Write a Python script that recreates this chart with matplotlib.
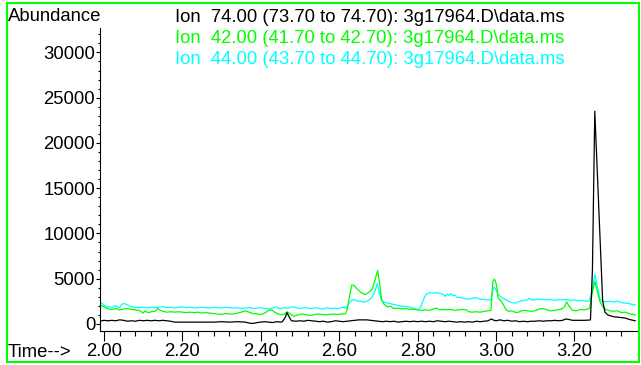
import matplotlib
matplotlib.use("Agg")
import matplotlib.pyplot as plt
from matplotlib.patches import Rectangle
from matplotlib.ticker import MultipleLocator

# ion 44 (cyan)
t_44 = [1.990, 1.995, 2.000, 2.005, 2.010, 2.015, 2.020, 2.025, 2.030, 2.035, 2.040, 2.045,
        2.050, 2.055, 2.060, 2.065, 2.070, 2.080, 2.090, 2.100, 2.110, 2.120, 2.130, 2.140,
        2.150, 2.160, 2.170, 2.180, 2.190, 2.200, 2.210, 2.220, 2.230, 2.240, 2.250, 2.260,
        2.270, 2.280, 2.290, 2.300, 2.310, 2.320, 2.330, 2.340, 2.350, 2.360, 2.370, 2.380,
        2.390, 2.400, 2.410, 2.420, 2.430, 2.440, 2.445, 2.450, 2.460, 2.470, 2.480, 2.490,
        2.500, 2.510, 2.520, 2.530, 2.540, 2.550, 2.560, 2.570, 2.580, 2.590, 2.600, 2.610,
        2.618, 2.625, 2.632, 2.638, 2.645, 2.655, 2.665, 2.675, 2.685, 2.692, 2.697, 2.702,
        2.708, 2.715, 2.725, 2.735, 2.745, 2.755, 2.765, 2.775, 2.785, 2.795, 2.802, 2.808,
        2.815, 2.822, 2.830, 2.840, 2.850, 2.858, 2.865, 2.870, 2.875, 2.880, 2.885, 2.890,
        2.895, 2.900, 2.910, 2.920, 2.930, 2.940, 2.950, 2.960, 2.970, 2.980, 2.988, 2.993,
        2.998, 3.005, 3.012, 3.020, 3.030, 3.040, 3.050, 3.060, 3.070, 3.080, 3.085, 3.090,
        3.100, 3.110, 3.120, 3.130, 3.140, 3.150, 3.160, 3.170, 3.180, 3.190, 3.200, 3.210,
        3.220, 3.230, 3.238, 3.245, 3.252, 3.258, 3.265, 3.272, 3.280, 3.290, 3.300, 3.310,
        3.320, 3.330, 3.340, 3.350, 3.355]
ion_44 = [2350, 2300, 2050, 1950, 1850, 1900, 1800, 1950, 2000, 1850, 1800, 2150,
          2250, 2200, 2100, 2000, 1900, 1850, 1800, 1850, 1750, 1850, 1800, 1850,
          1900, 1800, 1850, 1750, 1850, 1900, 1800, 1850, 1750, 1800, 1850, 1800,
          1750, 1850, 1800, 1750, 1850, 1800, 1750, 1800, 1700, 1750, 1800, 1700,
          1750, 1800, 1700, 1650, 1750, 1900, 1750, 1700, 1800, 1750, 1900, 1800,
          1700, 1800, 1750, 1700, 1800, 1700, 1650, 1800, 1700, 1750, 1700, 1850,
          1750, 2300, 2650, 2700, 2550, 2500, 2400, 2600, 3000, 3700, 4450, 3500,
          2600, 2400, 2300, 2200, 2100, 2000, 1950, 1900, 1800, 1650, 1600, 1900,
          2700, 3300, 3450, 3400, 3450, 3350, 3300, 3050, 3300, 3150, 3350, 3100,
          3200, 2950, 2900, 2800, 2750, 2850, 2900, 2750, 2700, 2650, 2700, 4050,
          3900, 3300, 3000, 2800, 2550, 2350, 2300, 2500, 2600, 2650, 2850, 2650,
          2700, 2750, 2700, 2650, 2700, 2600, 2700, 2650, 2700, 2600, 2650, 2550,
          2600, 2500, 2550, 3500, 5500, 4300, 2800, 2500, 2450, 2500, 2400, 2550,
          2350, 2300, 2250, 2100, 2150]

# ion 42 (green)
t_42 = [1.990, 1.995, 2.000, 2.010, 2.020, 2.030, 2.040, 2.050, 2.060, 2.070, 2.080, 2.090,
        2.095, 2.100, 2.105, 2.110, 2.115, 2.120, 2.130, 2.137, 2.142, 2.150, 2.160, 2.170,
        2.180, 2.190, 2.200, 2.210, 2.220, 2.230, 2.240, 2.250, 2.260, 2.270, 2.280, 2.290,
        2.300, 2.310, 2.320, 2.330, 2.340, 2.350, 2.360, 2.370, 2.380, 2.390, 2.400, 2.410,
        2.420, 2.428, 2.435, 2.445, 2.455, 2.462, 2.468, 2.475, 2.485, 2.495, 2.505, 2.515,
        2.525, 2.535, 2.545, 2.555, 2.565, 2.575, 2.585, 2.595, 2.605, 2.615, 2.620, 2.626,
        2.632, 2.638, 2.645, 2.655, 2.665, 2.675, 2.685, 2.692, 2.698, 2.703, 2.708, 2.714,
        2.722, 2.730, 2.740, 2.750, 2.760, 2.770, 2.780, 2.790, 2.800, 2.810, 2.820, 2.830,
        2.840, 2.848, 2.855, 2.865, 2.875, 2.885, 2.895, 2.905, 2.915, 2.925, 2.930, 2.940,
        2.950, 2.960, 2.970, 2.980, 2.987, 2.992, 2.996, 3.001, 3.006, 3.012, 3.018, 3.025,
        3.032, 3.040, 3.048, 3.055, 3.062, 3.070, 3.080, 3.090, 3.100, 3.110, 3.120, 3.128,
        3.138, 3.148, 3.158, 3.168, 3.175, 3.180, 3.186, 3.195, 3.205, 3.215, 3.225, 3.233,
        3.239, 3.245, 3.252, 3.258, 3.265, 3.272, 3.280, 3.290, 3.300, 3.310, 3.320, 3.330,
        3.340, 3.350, 3.355]
ion_42 = [2100, 2000, 1900, 1650, 1600, 1700, 1550, 1650, 1700, 1600, 1550, 1500,
          1350, 1200, 1450, 1300, 1250, 1350, 1400, 1700, 1550, 1400, 1300, 1350,
          1300, 1350, 1300, 1250, 1300, 1250, 1300, 1200, 1250, 1200, 1150, 1100,
          1050, 1150, 1100, 1100, 1200, 1300, 1450, 1300, 1150, 1100, 1050, 1200,
          1500, 1550, 1300, 1100, 1000, 1150, 1350, 1100, 850, 1000, 1100, 1000,
          950, 1000, 1100, 1050, 1000, 1050, 1100, 1050, 1100, 1100, 1500, 3000,
          4300, 4250, 3900, 3500, 3250, 3450, 3900, 5000, 5900, 4500, 2700, 2200,
          1900, 1950, 1700, 1750, 1650, 1700, 1600, 1650, 1550, 1500, 1550, 1500,
          1650, 1750, 1550, 1600, 1550, 1600, 1500, 1550, 1600, 1550, 1350, 1300,
          1350, 1300, 1400, 1450, 1500, 4700, 4950, 4400, 2800, 2600, 2200, 1600,
          1400, 1450, 1300, 1250, 1400, 1500, 1450, 1400, 1450, 1650, 1700, 1600,
          1450, 1500, 1550, 1650, 1900, 2450, 2000, 1500, 1450, 1600, 1550, 1650,
          1750, 3300, 4700, 3700, 2500, 1900, 1600, 1450, 1400, 1450, 1250, 1300,
          1150, 1050, 1000]

# ion 74 (black)
t_74 = [1.990, 2.000, 2.010, 2.020, 2.030, 2.040, 2.050, 2.060, 2.070, 2.080, 2.090, 2.100,
        2.110, 2.120, 2.130, 2.140, 2.150, 2.160, 2.170, 2.180, 2.200, 2.220, 2.240, 2.260,
        2.280, 2.300, 2.320, 2.340, 2.360, 2.370, 2.380, 2.390, 2.400, 2.410, 2.420, 2.430,
        2.440, 2.450, 2.455, 2.462, 2.467, 2.472, 2.478, 2.490, 2.500, 2.510, 2.520, 2.530,
        2.540, 2.550, 2.560, 2.570, 2.580, 2.590, 2.600, 2.610, 2.620, 2.630, 2.640, 2.650,
        2.660, 2.670, 2.680, 2.690, 2.700, 2.710, 2.720, 2.730, 2.740, 2.750, 2.760, 2.770,
        2.780, 2.790, 2.800, 2.810, 2.820, 2.830, 2.840, 2.850, 2.860, 2.870, 2.880, 2.890,
        2.900, 2.910, 2.920, 2.930, 2.940, 2.950, 2.960, 2.970, 2.980, 2.988, 2.995, 3.000,
        3.010, 3.020, 3.030, 3.040, 3.050, 3.060, 3.070, 3.080, 3.090, 3.100, 3.110, 3.120,
        3.130, 3.140, 3.150, 3.160, 3.170, 3.178, 3.185, 3.195, 3.205, 3.215, 3.225, 3.235,
        3.241, 3.246, 3.252, 3.272, 3.278, 3.285, 3.292, 3.300, 3.310, 3.320,
        3.330, 3.340, 3.350, 3.355]
ion_74 = [300, 400, 350, 400, 350, 450, 400, 300, 350, 300, 400, 350,
          400, 350, 400, 350, 400, 350, 300, 200, 200, 200, 200, 200,
          200, 250, 200, 250, 200, 100, 50, 150, 200, 250, 200, 150,
          250, 200, 250, 700, 1250, 800, 350, 300, 350, 300, 400, 350,
          300, 250, 300, 200, 250, 350, 300, 250, 300, 350, 400, 450,
          450, 450, 400, 350, 300, 250, 300, 250, 300, 200, 250, 300,
          250, 300, 250, 300, 250, 300, 250, 350, 300, 250, 300, 250,
          200, 250, 200, 250, 200, 300, 250, 300, 350, 550, 400, 350,
          450, 350, 400, 300, 350, 250, 300, 250, 300, 300, 350, 300,
          350, 350, 400, 350, 400, 550, 500, 400, 400, 400, 400, 420,
          450, 6000, 23500, 2600, 1300, 1000, 900, 800, 750, 700,
          650, 500, 400, 350]

titles = ["Ion  74.00 (73.70 to 74.70): 3g17964.D\\data.ms",
          "Ion  42.00 (41.70 to 42.70): 3g17964.D\\data.ms",
          "Ion  44.00 (43.70 to 44.70): 3g17964.D\\data.ms"]
colors = ["black", "#00ff00", "#00ffff"]

plt.rcParams["font.family"] = ["Liberation Sans", "DejaVu Sans"]
plt.rcParams["font.size"] = 13.3

W, H = 641, 365
fig = plt.figure(figsize=(W / 100, H / 100), dpi=100)
ax = fig.add_axes([100 / W, 1 - 331 / H, (637 - 100) / W, (331 - 28) / H])

ax.plot(t_44, ion_44, color=colors[2], lw=0.9)
ax.plot(t_42, ion_42, color=colors[1], lw=0.9)
ax.plot(t_74, ion_74, color=colors[0], lw=0.9)

ax.set_xlim(1.9898, 3.3597)
ax.set_ylim(-780, 32700)
ax.spines["top"].set_visible(False)
ax.spines["right"].set_visible(False)
ax.xaxis.set_major_locator(MultipleLocator(0.2))
ax.xaxis.set_minor_locator(MultipleLocator(0.04))
ax.yaxis.set_major_locator(MultipleLocator(5000))
ax.yaxis.set_minor_locator(MultipleLocator(1000))
ax.xaxis.set_major_formatter(plt.FormatStrFormatter("%.2f"))
ax.tick_params(axis="x", which="major", length=7.5, width=0.8, pad=0.8)
ax.tick_params(axis="x", which="minor", length=3.6, width=0.8)
ax.tick_params(axis="y", which="major", length=3, width=0.8, pad=0.5)
ax.tick_params(axis="y", which="minor", length=1.5, width=0.8)

fig.text(8 / W, 1 - 21 / H, "Abundance", va="baseline", ha="left")
fig.text(8 / W, 1 - 357 / H, "Time-->", va="baseline", ha="left")
for i, (s, c) in enumerate(zip(titles, colors)):
    fig.text(175 / W, 1 - (22 + 21 * i) / H, s, color=c, va="baseline", ha="left")

fig.patches.append(Rectangle((7 / W, 3 / H), (639 - 7) / W, (362 - 3) / H,
                             transform=fig.transFigure, fill=False,
                             edgecolor="#00ff00", lw=1.5))

fig.savefig("out.png", dpi=100)
